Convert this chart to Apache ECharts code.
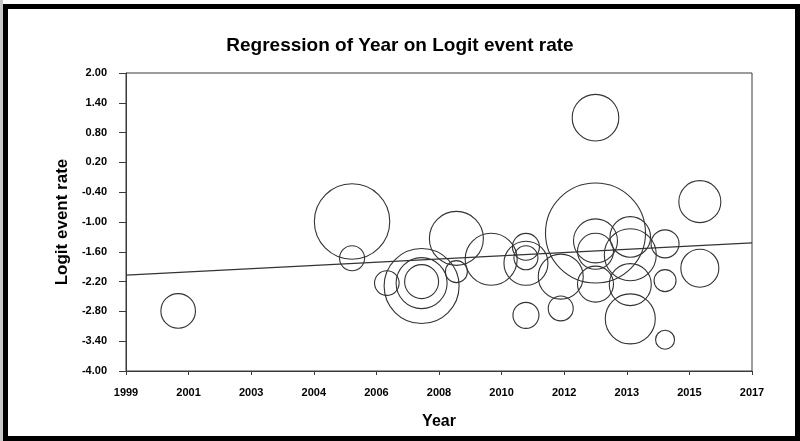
<!DOCTYPE html>
<html>
<head>
<meta charset="utf-8">
<script src="https://cdn.jsdelivr.net/npm/echarts@6/dist/echarts.min.js"></script>
<style>
html,body{margin:0;padding:0;background:#fff;}
#chart{width:800px;height:441px;}
</style>
</head>
<body>
<div id="chart"></div>
<script>
// ---- data ----
const years   = [2000.5, 2005.5, 2005.5, 2006.5, 2007.5, 2007.5, 2007.5, 2008.5, 2008.5, 2009.5,
                 2010.5, 2010.5, 2010.5, 2010.5, 2011.5, 2011.5, 2012.5, 2012.5, 2012.5, 2012.5,
                 2012.5, 2013.5, 2013.5, 2013.5, 2013.5, 2014.5, 2014.5, 2014.5, 2015.5, 2015.5];
const logits  = [-2.79, -0.99, -1.73, -2.23, -2.29, -2.23, -2.20, -1.33, -2.00, -1.75,
                 -1.50, -1.72, -1.83, -2.88, -2.10, -2.74, 1.10, -1.22, -1.38, -1.59,
                 -2.25, -1.30, -1.66, -2.26, -2.95, -1.44, -2.18, -3.37, -0.59, -1.93];
const weights = [2.99, 14.21, 1.56, 1.51, 14.06, 6.50, 2.89, 7.29, 1.21, 6.76,
                 1.82, 1.44, 4.84, 1.69, 5.06, 1.56, 5.43, 25.0, 4.84, 3.24,
                 3.24, 4.12, 6.76, 4.41, 6.25, 1.96, 1.21, 0.90, 4.41, 3.61];
const regYears  = [1999, 2017];
const regLogits = [-2.07, -1.42];
const xTickLabels = ['1999','2001','2003','2004','2006','2008','2010','2012','2013','2015','2017'];
const yTickLabels = ['-4.00','-3.40','-2.80','-2.20','-1.60','-1.00','-0.40','0.20','0.80','1.40','2.00'];
const X0 = 1999, X1 = 2017, Y0 = -4, Y1 = 2;

const xStep = (X1 - X0) / (xTickLabels.length - 1);
const yStep = (Y1 - Y0) / (yTickLabels.length - 1);
const SIZE_SCALE = 10;

const bubbleData = years.map((y, i) => [y - X0, logits[i] - Y0, weights[i]]);
const lineData = regYears.map((y, i) => [y - X0, regLogits[i] - Y0]);

const chart = echarts.init(document.getElementById('chart'), null, {renderer: 'canvas'});
const ink = '#3a3a3a';
const font = "'Liberation Sans', Arial, sans-serif";
chart.setOption({
  animation: false,
  backgroundColor: '#fff',
  title: {
    text: 'Regression of Year on Logit event rate',
    left: 'center', top: 31,
    textStyle: {fontFamily: font, fontSize: 19, fontWeight: 'bold', color: '#000'}
  },
  grid: {left: 126, right: 48, top: 73, bottom: 70, show: true, borderColor: ink, borderWidth: 1, backgroundColor: 'transparent'},
  xAxis: {
    type: 'value', min: 0, max: X1 - X0, interval: xStep,
    name: 'Year', nameLocation: 'middle', nameGap: 43,
    nameTextStyle: {fontFamily: font, fontSize: 16, fontWeight: 'bold', color: '#000'},
    axisLine: {show: true, lineStyle: {color: ink, width: 1}},
    axisTick: {show: true, length: 4, inside: false, lineStyle: {color: ink}},
    splitLine: {show: false},
    axisLabel: {
      margin: 16, fontFamily: font, fontSize: 11, fontWeight: 'bold', color: '#000',
      formatter: v => xTickLabels[Math.round(v / xStep)]
    }
  },
  yAxis: {
    type: 'value', min: 0, max: Y1 - Y0, interval: yStep,
    name: 'Logit event rate', nameLocation: 'middle', nameGap: 55,
    nameTextStyle: {fontFamily: font, fontSize: 17, fontWeight: 'bold', color: '#000'},
    axisLine: {show: true, lineStyle: {color: ink, width: 1}},
    axisTick: {show: true, length: 7, inside: false, lineStyle: {color: ink}},
    splitLine: {show: false},
    axisLabel: {
      margin: 19, fontFamily: font, fontSize: 11, fontWeight: 'bold', color: '#000',
      formatter: v => yTickLabels[Math.round(v / yStep)]
    }
  },
  series: [
    {
      type: 'scatter',
      data: bubbleData,
      symbol: 'circle',
      symbolSize: (val) => 2 * Math.sqrt(val[2]) * SIZE_SCALE,
      itemStyle: {color: 'rgba(0,0,0,0)', borderColor: '#333', borderWidth: 1.1, opacity: 1},
      emphasis: {disabled: true},
      silent: true
    },
    {
      type: 'line',
      data: lineData,
      symbol: 'none',
      lineStyle: {color: '#333', width: 1.2},
      silent: true
    }
  ],
  graphic: [
    {type: 'rect', left: 0, top: 0, shape: {x: 0, y: 0, width: 3, height: 441}, style: {fill: '#c8c8c8'}, silent: true},
    {type: 'rect', shape: {x: 5.5, y: 6.5, width: 792, height: 432}, style: {fill: 'none', stroke: '#000', lineWidth: 5}, silent: true}
  ]
});
</script>
</body>
</html>
